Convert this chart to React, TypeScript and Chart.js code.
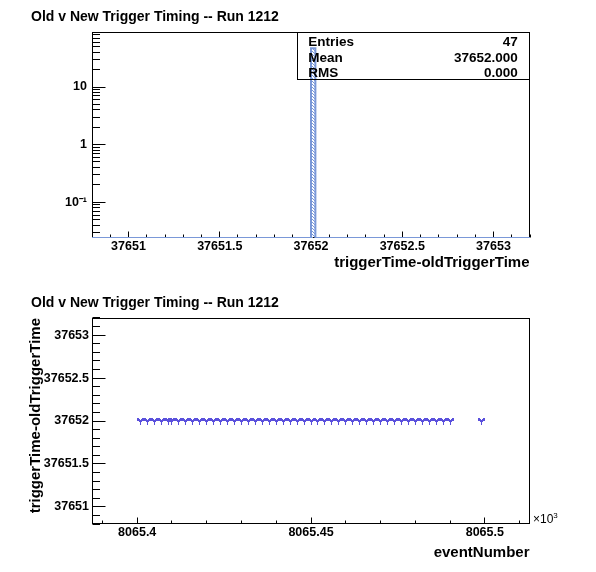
import React, { useEffect, useRef } from 'react';
import { Chart, registerables } from 'chart.js';
Chart.register(...registerables);

const FONT = '"Liberation Sans", Arial, Helvetica, sans-serif';

const plotTitle = 'Old v New Trigger Timing -- Run 1212';
const histXTitle = 'triggerTime-oldTriggerTime';
const scatterXTitle = 'eventNumber';
const scatterYTitle = 'triggerTime-oldTriggerTime';

const eventNumbers = [
  8065401, 8065403, 8065405, 8065407, 8065409, 8065410, 8065412, 8065414, 8065416, 8065418,
  8065420, 8065422, 8065424, 8065426, 8065428, 8065430, 8065432, 8065434, 8065436, 8065438,
  8065440, 8065442, 8065444, 8065446, 8065448, 8065450, 8065452, 8065454, 8065456, 8065458,
  8065460, 8065462, 8065464, 8065466, 8065468, 8065470, 8065472, 8065474, 8065476, 8065478,
  8065480, 8065482, 8065484, 8065486, 8065488, 8065490, 8065499,
];
const timeDiffs = [
  37652, 37652, 37652, 37652, 37652, 37652, 37652, 37652, 37652, 37652,
  37652, 37652, 37652, 37652, 37652, 37652, 37652, 37652, 37652, 37652,
  37652, 37652, 37652, 37652, 37652, 37652, 37652, 37652, 37652, 37652,
  37652, 37652, 37652, 37652, 37652, 37652, 37652, 37652, 37652, 37652,
  37652, 37652, 37652, 37652, 37652, 37652, 37652,
];

const histRange = [37650.8, 37653.2];
const histBins = 100;
const histYRange = [0.024, 90];
const histXTicks = [37651, 37651.5, 37652, 37652.5, 37653];
const histYTicks = [0.1, 1, 10];
const histYTickLabels = ['10\u207B\u00B9', '1', '10'];

const scatterXRange = [8065.387, 8065.513];
const scatterYRange = [37650.8, 37653.2];
const scatterXTicks = [8065.4, 8065.45, 8065.5];
const scatterYTicks = [37651, 37651.5, 37652, 37652.5, 37653];

const HIST_LINE = '#7a98d8';
const MARKER = '#5a50dc';

type Decor = {
  xTitle: string;
  xTitleBaseline: number;
  yTitle?: string;
  xMajor: number[];
  yMajor: number[];
  xMinorStep: number;
  yMinorStep?: number;
  yLog?: boolean;
  stats?: { entries: number; mean: number; rms: number };
  exponent?: string;
};

function minorValues(min: number, max: number, step: number, majors: number[]) {
  const out: number[] = [];
  const k0 = Math.ceil(min / step - 1e-9);
  for (let k = k0; k * step <= max + 1e-9; k++) {
    const v = k * step;
    if (!majors.some((m) => Math.abs(m - v) < step * 1e-3)) out.push(v);
  }
  return out;
}

function logMinorValues(min: number, max: number) {
  const out: number[] = [];
  for (let d = Math.floor(Math.log10(min)); d <= Math.ceil(Math.log10(max)); d++) {
    for (let m = 2; m <= 9; m++) {
      const v = m * Math.pow(10, d);
      if (v >= min && v <= max) out.push(v);
    }
  }
  return out;
}

function decorPlugin(d: Decor) {
  return {
    id: 'rootDecor',
    beforeDatasetsDraw(chart: any) {
      const { ctx, chartArea: a, scales } = chart;
      const xs = scales.x;
      const ys = scales.y;
      const L = Math.floor(a.left) + 0.5;
      const R = Math.round(a.right) - 0.5;
      const T = Math.floor(a.top) + 0.5;
      const B = Math.round(a.bottom) - 0.5;
      ctx.save();
      ctx.strokeStyle = '#000';
      ctx.lineWidth = 1;
      ctx.strokeRect(L, T, R - L, B - T);
      const line = (x1: number, y1: number, x2: number, y2: number) => {
        ctx.beginPath();
        ctx.moveTo(x1, y1);
        ctx.lineTo(x2, y2);
        ctx.stroke();
      };
      d.xMajor.forEach((v) => {
        const px = Math.floor(xs.getPixelForValue(v)) + 0.5;
        line(px, B, px, B - 6);
      });
      minorValues(xs.min, xs.max, d.xMinorStep, d.xMajor).forEach((v) => {
        const px = Math.floor(xs.getPixelForValue(v)) + 0.5;
        line(px, B, px, B - 3);
      });
      d.yMajor.forEach((v) => {
        const py = Math.floor(ys.getPixelForValue(v)) + 0.5;
        line(L, py, L + 13, py);
      });
      const yMin = d.yLog ? logMinorValues(ys.min, ys.max) : minorValues(ys.min, ys.max, d.yMinorStep || 0.1, d.yMajor);
      yMin.forEach((v) => {
        const py = Math.floor(ys.getPixelForValue(v)) + 0.5;
        line(L, py, L + 7.5, py);
      });
      ctx.restore();
      ctx.imageSmoothingEnabled = false;
    },
    afterDatasetsDraw(chart: any) {
      const { ctx, chartArea: a } = chart;
      ctx.save();
      ctx.fillStyle = '#000';
      ctx.strokeStyle = '#000';
      ctx.lineWidth = 1;
      ctx.textBaseline = 'alphabetic';
      // title
      ctx.font = `bold 14px ${FONT}`;
      ctx.textAlign = 'left';
      ctx.fillText(plotTitle, 31, 20.7);
      // x title
      ctx.font = `bold 15px ${FONT}`;
      ctx.textAlign = 'right';
      ctx.fillText(d.xTitle, Math.round(a.right) - 0.5, d.xTitleBaseline);
      // y title
      if (d.yTitle) {
        ctx.save();
        ctx.translate(39.5, Math.floor(a.top));
        ctx.rotate(-Math.PI / 2);
        ctx.textAlign = 'right';
        ctx.fillText(d.yTitle, 0, 0);
        ctx.restore();
      }
      // exponent
      if (d.exponent) {
        ctx.textAlign = 'left';
        ctx.font = `12px ${FONT}`;
        ctx.fillText('\u00D710', Math.round(a.right) + 3, Math.round(a.bottom) - 1);
        const w = ctx.measureText('\u00D710').width;
        ctx.font = `8px ${FONT}`;
        ctx.fillText(d.exponent, Math.round(a.right) + 3 + w, Math.round(a.bottom) - 6.5);
      }
      // stats box
      if (d.stats) {
        const bx = 297.5;
        const by = Math.floor(a.top) + 0.5;
        const bw = Math.round(a.right) - 0.5 - bx;
        const bh = 47;
        ctx.strokeRect(bx, by, bw, bh);
        ctx.font = `bold 13.5px ${FONT}`;
        const rows = [
          ['Entries', String(d.stats.entries)],
          ['Mean', d.stats.mean.toFixed(3)],
          ['RMS', d.stats.rms.toFixed(3)],
        ];
        const baselines = [45.7, 61.5, 76.7];
        rows.forEach((r, i) => {
          ctx.textAlign = 'left';
          ctx.fillText(r[0], 308.3, baselines[i]);
          ctx.textAlign = 'right';
          ctx.fillText(r[1], 517.7, baselines[i]);
        });
      }
      ctx.restore();
    },
  };
}

function makeHatch(color: string) {
  const c = document.createElement('canvas');
  c.width = 3;
  c.height = 3;
  const g = c.getContext('2d')!;
  g.fillStyle = color;
  g.fillRect(0, 0, 1, 1);
  g.fillRect(1, 1, 1, 1);
  g.fillRect(2, 2, 1, 1);
  return g.createPattern(c, 'repeat');
}

function makeMarker(color: string) {
  const rows = [
    '.......',
    'xx...xx',
    'xxx.xxx',
    'xxxxxxx',
    '..xxx..',
    '...x...',
    '...x...',
    '...x...',
    '.......',
  ];
  const c = document.createElement('canvas');
  c.width = 7;
  c.height = rows.length;
  const g = c.getContext('2d')!;
  g.fillStyle = color;
  rows.forEach((r, y) =>
    r.split('').forEach((ch, x) => {
      if (ch === 'x') g.fillRect(x, y, 1, 1);
    })
  );
  return c;
}

const tickFont = { family: FONT, size: 12.5, weight: 'bold' as const };

export default function App() {
  const topRef = useRef<HTMLCanvasElement>(null);
  const botRef = useRef<HTMLCanvasElement>(null);

  useEffect(() => {
    // histogram from the values
    const binW = (histRange[1] - histRange[0]) / histBins;
    const counts = new Array(histBins).fill(0);
    timeDiffs.forEach((v) => {
      const i = Math.floor((v - histRange[0]) / binW + 1e-9);
      if (i >= 0 && i < histBins) counts[i]++;
    });
    const histPoints: { x: number; y: number }[] = [];
    for (let i = 0; i < histBins; i++) {
      histPoints.push({ x: histRange[0] + i * binW, y: counts[i] > 0 ? counts[i] : histYRange[0] });
    }
    histPoints.push({ x: histRange[1], y: histPoints[histPoints.length - 1].y });

    const n = timeDiffs.length;
    const mean = timeDiffs.reduce((s, v) => s + v, 0) / n;
    const rms = Math.sqrt(timeDiffs.reduce((s, v) => s + (v - mean) * (v - mean), 0) / n);

    const axisCommon = {
      grid: { display: false, drawTicks: false },
      border: { display: false },
    };

    const top = new Chart(topRef.current!, {
      type: 'line',
      data: {
        datasets: [
          {
            data: histPoints,
            stepped: true,
            borderColor: HIST_LINE,
            borderWidth: 2,
            pointRadius: 0,
            fill: 'start',
            backgroundColor: makeHatch(HIST_LINE) as any,
          },
        ],
      },
      options: {
        responsive: false,
        animation: false,
        layout: { padding: { left: 0, top: 32, right: 66, bottom: 0 } },
        plugins: { legend: { display: false }, tooltip: { enabled: false } },
        scales: {
          x: {
            ...axisCommon,
            type: 'linear',
            min: histRange[0],
            max: histRange[1],
            afterBuildTicks: (s: any) => {
              s.ticks = histXTicks.map((v) => ({ value: v }));
            },
            afterFit: (s: any) => {
              s.height = 48;
            },
            ticks: {
              autoSkip: false,
              maxRotation: 0,
              padding: 1,
              color: '#000',
              font: tickFont,
              callback: (v: any) => String(v),
            },
          },
          y: {
            ...axisCommon,
            type: 'logarithmic',
            min: histYRange[0],
            max: histYRange[1],
            afterBuildTicks: (s: any) => {
              s.ticks = histYTicks.map((v) => ({ value: v }));
            },
            afterFit: (s: any) => {
              s.width = 92;
            },
            ticks: {
              autoSkip: false,
              padding: 5,
              color: '#000',
              font: tickFont,
              callback: (v: any) => {
                const i = histYTicks.findIndex((t) => Math.abs(t - v) < t * 1e-6);
                return i >= 0 ? histYTickLabels[i] : '';
              },
            },
          },
        },
      },
      plugins: [
        decorPlugin({
          xTitle: histXTitle,
          xTitleBaseline: 266.7,
          xMajor: histXTicks,
          yMajor: histYTicks,
          xMinorStep: 0.1,
          yLog: true,
          stats: { entries: n, mean, rms },
        }),
      ],
    } as any);

    const marker = makeMarker(MARKER);
    const bottom = new Chart(botRef.current!, {
      type: 'scatter',
      data: {
        datasets: [
          {
            data: eventNumbers.map((e, i) => ({ x: e / 1000, y: timeDiffs[i] })),
            pointStyle: marker as any,
            pointRadius: 4,
            borderColor: MARKER,
            backgroundColor: MARKER,
            showLine: false,
          },
        ],
      },
      options: {
        responsive: false,
        animation: false,
        layout: { padding: { left: 0, top: 32, right: 66, bottom: 0 } },
        plugins: { legend: { display: false }, tooltip: { enabled: false } },
        scales: {
          x: {
            ...axisCommon,
            type: 'linear',
            min: scatterXRange[0],
            max: scatterXRange[1],
            afterBuildTicks: (s: any) => {
              s.ticks = scatterXTicks.map((v) => ({ value: v }));
            },
            afterFit: (s: any) => {
              s.height = 48;
            },
            ticks: {
              autoSkip: false,
              maxRotation: 0,
              padding: 1,
              color: '#000',
              font: tickFont,
              callback: (v: any) => String(v),
            },
          },
          y: {
            ...axisCommon,
            type: 'linear',
            min: scatterYRange[0],
            max: scatterYRange[1],
            afterBuildTicks: (s: any) => {
              s.ticks = scatterYTicks.map((v) => ({ value: v }));
            },
            afterFit: (s: any) => {
              s.width = 92;
            },
            ticks: {
              autoSkip: false,
              padding: 3,
              color: '#000',
              font: tickFont,
              callback: (v: any) => String(v),
            },
          },
        },
      },
      plugins: [
        decorPlugin({
          xTitle: scatterXTitle,
          xTitleBaseline: 270.7,
          yTitle: scatterYTitle,
          xMajor: scatterXTicks,
          yMajor: scatterYTicks,
          xMinorStep: 0.01,
          yMinorStep: 0.1,
          exponent: '3',
        }),
      ],
    } as any);

    return () => {
      top.destroy();
      bottom.destroy();
    };
  }, []);

  return (
    <div style={{ position: 'absolute', left: 0, top: 0, width: 596, height: 572, background: '#fff' }}>
      <canvas ref={topRef} width={596} height={286} style={{ position: 'absolute', left: 0, top: 0, width: 596, height: 286 }} />
      <canvas ref={botRef} width={596} height={286} style={{ position: 'absolute', left: 0, top: 286, width: 596, height: 286 }} />
    </div>
  );
}
